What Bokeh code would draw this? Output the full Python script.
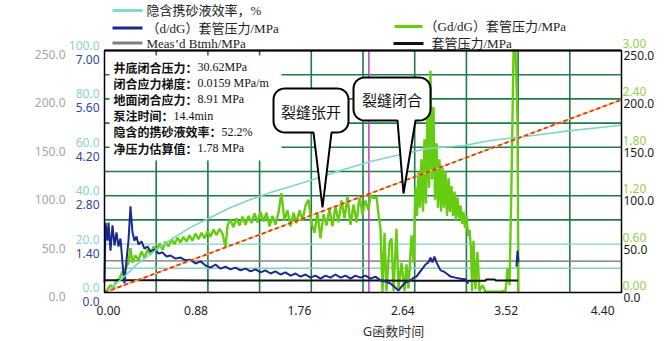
import math
from bokeh.plotting import figure
from bokeh.models import Range1d, Label, BoxAnnotation, PolyAnnotation, Arrow
from bokeh.embed import file_html
from bokeh.resources import INLINE

NaN = float("nan")

# ---------------- data ----------------
# implied slurry efficiency, %  (0-100 axis)
eff_G = [0.000, 0.051, 0.119, 0.187, 0.264, 0.366, 0.477, 0.604, 0.732, 0.902,
         1.072, 1.243, 1.413, 1.583, 1.779, 2.009, 2.264, 2.519, 2.749, 3.055,
         3.285, 3.498, 3.711, 3.966, 4.221, 4.374, 4.400]
eff_pct = [0.0, 1.7, 4.5, 7.4, 11.2, 14.9, 19.0, 23.1, 26.9, 31.0,
           35.1, 38.4, 41.3, 43.8, 46.7, 50.4, 54.1, 57.0, 59.5, 60.7,
           62.8, 64.0, 65.3, 66.9, 68.2, 69.0, 69.1]

# (d/dG) casing pressure, MPa (0-7 axis)
ddg_G = [0.000, 0.009, 0.026, 0.034, 0.051, 0.068, 0.085, 0.102, 0.119, 0.136,
         0.153, 0.170, 0.187, 0.204, 0.221, 0.238, 0.255, 0.272, 0.289, 0.315,
         0.340, 0.366, 0.391, 0.426, 0.460, 0.494, 0.528, 0.562, 0.604, 0.647,
         0.689, 0.732, 0.774, 0.817, 0.860, 0.902, 0.945, 0.987, 1.030, 1.072,
         1.115, 1.157, 1.200, 1.243, 1.285, 1.328, 1.370, 1.413, 1.455, 1.498,
         1.540, 1.583, 1.626, 1.668, 1.711, 1.753, 1.796, 1.838, 1.881, 1.923,
         1.966, 2.009, 2.051, 2.094, 2.136, 2.179, 2.221, 2.264, 2.306, 2.349,
         2.391, 2.434, 2.477, 2.502, 2.528, 2.553, 2.579, 2.604, 2.630, 2.655,
         2.681, 2.706, 2.732, 2.757, 2.774, 2.791, 2.808, 2.826, 2.843, 2.860,
         2.885, 2.911, 2.945, 2.987, 3.030, 3.072, 3.098, 3.300, 3.506, 3.515,
         3.523]
ddg_val = [0.29, 2.02, 1.50, 2.02, 1.21, 1.94, 1.36, 1.74, 1.33, 1.56,
           0.87, 0.26, 0.93, 1.50, 2.49, 1.74, 1.50, 1.62, 1.39, 1.48,
           1.27, 1.33, 1.19, 1.24, 1.13, 1.16, 1.04, 1.07, 0.98, 1.01,
           0.93, 0.95, 0.84, 0.90, 0.78, 0.72, 0.81, 0.69, 0.75, 0.67,
           0.72, 0.64, 0.69, 0.61, 0.67, 0.58, 0.64, 0.55, 0.61, 0.52,
           0.58, 0.49, 0.55, 0.46, 0.52, 0.43, 0.49, 0.40, 0.49, 0.43,
           0.52, 0.43, 0.49, 0.40, 0.49, 0.43, 0.49, 0.40, 0.46, 0.35,
           0.32, 0.26, 0.14, 0.06, 0.17, 0.26, 0.32, 0.35, 0.43, 0.46,
           0.58, 0.69, 0.81, 0.87, 1.01, 0.87, 1.04, 0.87, 0.75, 0.64,
           0.61, 0.55, 0.46, 0.43, 0.40, 0.38, 0.26, NaN, 0.75, 1.21,
           0.87]

# (Gd/dG) casing pressure, MPa (0-3 axis)
gddg_G = [0.000, 0.026, 0.051, 0.077, 0.102, 0.128, 0.153, 0.179, 0.204, 0.221,
          0.238, 0.264, 0.289, 0.315, 0.340, 0.366, 0.391, 0.417, 0.443, 0.468,
          0.494, 0.519, 0.545, 0.570, 0.596, 0.621, 0.647, 0.672, 0.698, 0.723,
          0.749, 0.774, 0.800, 0.826, 0.851, 0.877, 0.902, 0.928, 0.953, 0.979,
          1.004, 1.030, 1.047, 1.072, 1.098, 1.123, 1.149, 1.174, 1.200, 1.226,
          1.251, 1.277, 1.302, 1.328, 1.353, 1.379, 1.404, 1.430, 1.455, 1.481,
          1.506, 1.532, 1.557, 1.583, 1.609, 1.634, 1.660, 1.685, 1.711, 1.736,
          1.762, 1.787, 1.813, 1.838, 1.864, 1.889, 1.915, 1.940, 1.966, 1.991,
          2.017, 2.043, 2.068, 2.094, 2.119, 2.145, 2.170, 2.196, 2.221, 2.247,
          2.264, 2.289, 2.315, 2.332, 2.349, 2.366, 2.383, 2.400, 2.426, 2.443,
          2.460, 2.485, 2.502, 2.528, 2.553, 2.570, 2.587, 2.613, 2.630, 2.647,
          2.660, 2.672, 2.685, 2.698, 2.711, 2.723, 2.736, 2.749, 2.762, 2.774,
          2.787, 2.800, 2.813, 2.826, 2.838, 2.851, 2.864, 2.877, 2.889, 2.902,
          2.915, 2.928, 2.940, 2.953, 2.966, 2.979, 2.991, 3.004, 3.017, 3.030,
          3.043, 3.055, 3.068, 3.081, 3.094, 3.106, 3.119, 3.128, 3.140, 3.157,
          3.174, 3.191, 3.217, 3.243, 3.285, 3.370, 3.413, 3.430, 3.447, 3.464,
          3.481, 3.498, 3.515, 3.523]
gddg_val = [0.00, 0.04, 0.09, 0.06, 0.15, 0.17, 0.26, 0.30, 0.37, 0.55,
            0.37, 0.46, 0.40, 0.51, 0.43, 0.53, 0.47, 0.57, 0.51, 0.61,
            0.53, 0.63, 0.57, 0.66, 0.60, 0.68, 0.62, 0.69, 0.63, 0.71,
            0.64, 0.73, 0.66, 0.74, 0.67, 0.76, 0.69, 0.78, 0.71, 0.79,
            0.73, 0.56, 0.83, 0.90, 0.81, 0.92, 0.83, 0.94, 0.84, 0.95,
            0.86, 0.98, 0.87, 1.00, 0.88, 0.99, 0.82, 0.95, 0.84, 0.99,
            1.23, 0.89, 1.02, 0.82, 0.99, 0.86, 1.02, 0.89, 1.08, 1.15,
            0.87, 0.74, 0.99, 0.67, 0.97, 0.83, 1.04, 0.82, 1.07, 0.87,
            1.14, 0.92, 1.19, 0.84, 1.09, 0.87, 1.19, 0.97, 1.14, 1.02,
            1.21, 1.17, 1.19, 0.97, 0.79, 0.01, 0.74, 0.02, 0.62, 0.67,
            0.02, 0.79, 0.05, 0.37, 0.02, 0.35, 0.05, 0.71, 0.37, 1.30,
            0.95, 1.50, 1.05, 1.65, 1.00, 1.90, 1.10, 2.30, 1.30, 2.75,
            1.40, 2.30, 1.15, 1.85, 1.05, 1.65, 1.00, 1.55, 1.05, 1.50,
            0.95, 1.42, 1.00, 1.32, 0.95, 1.25, 0.90, 1.18, 0.92, 1.08,
            0.85, 1.00, 0.80, 0.95, 0.70, 0.78, 0.55, 0.02, 0.64, 0.04,
            0.50, 0.02, 0.09, 0.01, 0.01, 0.01, 0.02, 0.30, 0.09, 1.39,
            3.00, 3.00, 2.13, 0.01]

# straight-line extrapolation of Gd/dG (red dashed)
tan_G = [0.0, 4.40]
tan_val = [0.0, 2.39]

# casing pressure, MPa (right 0-250 axis)
csg_G = [0.0, 0.5, 1.0, 1.5, 2.0, 2.35, 2.6, 3.0, 3.24, 3.25, 3.32, 3.33, 3.52]
csg_val = [12.7, 12.6, 12.5, 12.5, 12.4, 12.3, 12.2, 12.1, 12.1, 13.4, 13.4, 12.4, 12.4]

# measured bottom-hole pressure, MPa (left 0-250 axis)
btmh_G = [0.0, 1.0, 2.0, 3.0, 4.4]
btmh_val = [32.8, 32.6, 32.5, 32.4, 32.3]

closure_G = 2.25

x_ticks = [0.00, 0.88, 1.76, 2.64, 3.52, 4.40]
x_tick_labels = ["0.00", "0.88", "1.76", "2.64", "3.52", "4.40"]
btmh_labels = ["0.0", "50.0", "100.0", "150.0", "200.0", "250.0"]
eff_labels = ["0.0", "20.0", "40.0", "60.0", "80.0", "100.0"]
ddg_labels = ["0.0", "1.40", "2.80", "4.20", "5.60", "7.00"]
gddg_labels = ["0.00", "0.60", "1.20", "1.80", "2.40", "3.00"]
csg_labels = ["0.0", "50.0", "100.0", "150.0", "200.0", "250.0"]

info_names = ["井底闭合压力：", "闭合应力梯度：", "地面闭合应力：", "泵注时间：",
              "隐含的携砂液效率：", "净压力估算值："]
info_values = ["30.62MPa", "0.0159 MPa/m", "8.91 MPa", "14.4min", "52.2%", "1.78 MPa"]

assert len(ddg_G) == len(ddg_val)
assert len(gddg_G) == len(gddg_val)
assert len(eff_G) == len(eff_pct)

# ---------------- layout ----------------
W, H = 666, 341
PX0, PY0, PW, PH = 104, 50, 517, 242      # chart box in page pixels
XMAX, YMAX = 4.4, 250.0


def gx(ix):
    return (ix - PX0) / PW * XMAX


def gy(iy):
    return (PY0 + PH - iy) / PH * YMAX


y0, y1 = gy(H), gy(0)
p = figure(width=W, height=H, x_range=Range1d(gx(0), gx(W)), y_range=Range1d(y0, y1),
           x_axis_type=None, y_axis_type=None, output_backend="svg",
           toolbar_location=None, min_border=0, min_border_left=0, min_border_right=0,
           min_border_top=0, min_border_bottom=0)
p.extra_y_ranges = {"eff": Range1d(y0 * 100 / YMAX, y1 * 100 / YMAX),
                    "ddg": Range1d(y0 * 7 / YMAX, y1 * 7 / YMAX),
                    "gddg": Range1d(y0 * 3 / YMAX, y1 * 3 / YMAX),
                    "csg": Range1d(y0, y1)}
p.background_fill_color = "white"
p.border_fill_color = "white"
p.outline_line_color = None

# grid lines of the chart box
GRID = "#1e7a46"
vx = [XMAX * k / 10 for k in range(1, 10)]
p.segment(x0=vx, y0=[0] * len(vx), x1=vx, y1=[YMAX] * len(vx), line_color=GRID, line_width=1.6)
hy = [YMAX * k / 10 for k in range(3, 10)]
p.segment(x0=[0] * len(hy), y0=hy, x1=[XMAX] * len(hy), y1=hy, line_color=GRID, line_width=1.6)
hy2 = [YMAX * k / 10 for k in range(1, 3)]
p.segment(x0=[0] * len(hy2), y0=hy2, x1=[XMAX] * len(hy2), y1=hy2, line_color="#86cfbd", line_width=1.4)

# ---------------- series ----------------
p.line(btmh_G, btmh_val, line_color="#8c8a84", line_width=1.6)
p.segment(x0=[closure_G], y0=[0], x1=[closure_G], y1=[YMAX], line_color="#c23fc2", line_width=1.5)
p.line(gddg_G, gddg_val, y_range_name="gddg", line_color="#66cc11", line_width=2.4)
p.line(csg_G, csg_val, y_range_name="csg", line_color="#111111", line_width=2)
p.line(ddg_G, ddg_val, y_range_name="ddg", line_color="#1a2a8c", line_width=2)
p.line(eff_G, eff_pct, y_range_name="eff", line_color="#7fd6c4", line_width=1.6)
p.line(tan_G, tan_val, y_range_name="gddg", line_color="#f2c94c", line_width=1.5)
p.line(tan_G, tan_val, y_range_name="gddg", line_color="#e0302a", line_width=1.8, line_dash="4 3")

SANS = "Noto Sans"
MIX = "Liberation Serif, Noto Sans CJK SC"
CJK = "Noto Sans CJK SC"


def lab(x, y, text, color="#222222", size="12px", align="left", font=SANS, xoff=0, style="normal"):
    p.add_layout(Label(x=x, y=y, x_offset=xoff, text=text, text_color=color,
                       text_font_size=size, text_align=align, text_baseline="middle",
                       text_font=font, text_font_style=style))


# ---------------- info box ----------------
p.add_layout(BoxAnnotation(left=gx(109), right=gx(281), top=gy(55), bottom=gy(160),
                           fill_color="white", fill_alpha=1.0, line_alpha=0))
for i, (name, val) in enumerate(zip(info_names, info_values)):
    iy = 66.5 + 16.2 * i
    lab(gx(113), gy(iy), name, color="#111111", size="12px", font=CJK, style="bold")
    lab(gx(113 + 12 * len(name)), gy(iy), val, color="#111111", size="12px",
        font="Liberation Serif")

# chart frame
p.add_layout(BoxAnnotation(left=0, right=XMAX, bottom=0, top=YMAX, fill_alpha=0,
                           line_color="black", line_alpha=1.0, line_width=1.5))
p.segment(x0=[0], y0=[YMAX], x1=[XMAX], y1=[YMAX], line_color="black", line_width=2.2)


# ---------------- callouts ----------------
def bubble(x0, yt, x1, yb, r, bx0, bx1, tx, ty):
    pts = []

    def arc(cx, cy, a0, a1):
        for k in range(7):
            a = math.radians(a0 + (a1 - a0) * k / 6)
            pts.append((cx + r * math.cos(a), cy + r * math.sin(a)))
    arc(x1 - r, yt + r, -90, 0)
    arc(x1 - r, yb - r, 0, 90)
    pts.extend([(bx1, yb), (tx, ty), (bx0, yb)])
    arc(x0 + r, yb - r, 90, 180)
    arc(x0 + r, yt + r, 180, 270)
    p.add_layout(PolyAnnotation(xs=[gx(a) for a, b in pts], ys=[gy(b) for a, b in pts],
                                fill_color="white", fill_alpha=1.0,
                                line_color="black", line_alpha=1.0, line_width=2))


bubble(273, 88, 348, 132, 11, 313, 331, 322, 207)
lab(gx(310.5), gy(111), "裂缝张开", color="#111111", size="15px", align="center", font=CJK)
bubble(353, 77, 430, 120, 11, 397, 415, 403, 193)
lab(gx(391.5), gy(99), "裂缝闭合", color="#111111", size="15px", align="center", font=CJK)

# ---------------- tick labels ----------------
ylab = gy(309.5)
for t, s in zip(x_ticks, x_tick_labels):
    if t == x_ticks[0]:
        lab(t, ylab, s, align="center", xoff=4)
    elif t == x_ticks[-1]:
        lab(t, ylab, s, align="right", xoff=-7)
    else:
        lab(t, ylab, s, align="right")

lab(gx(393), gy(330), "G函数时间", color="#333333", size="13px", align="center",
    font="Noto Sans, Noto Sans CJK SC")

px2d = YMAX / PH
for i in range(6):
    yv = YMAX * i / 5
    lab(gx(65), yv - 4 * px2d, btmh_labels[i], color="#a6a69e", align="right")
    lab(gx(99), yv + 5 * px2d, eff_labels[i], color="#86d6c4", align="right")
    lab(gx(99), yv - 9 * px2d, ddg_labels[i], color="#3344a6", align="right")
    lab(gx(622), yv + 7 * px2d, gddg_labels[i], color="#98d04c", align="left")
    lab(gx(623), yv - 5 * px2d, csg_labels[i], color="#1a1a1a", align="left")

# ---------------- legend ----------------
legend_left = [("隐含携砂液效率，%", "#80dcc8", 10),
               ("（d/dG）套管压力/MPa", "#1a2a8a", 27.5),
               ("Meas’d Btmh/MPa", "#808078", 42.5)]
for text, col, iy in legend_left:
    p.add_layout(Arrow(end=None, x_start=gx(112), y_start=gy(iy), x_end=gx(142), y_end=gy(iy),
                       line_color=col, line_width=3))
    lab(gx(146), gy(iy), text, size="13px", font=MIX)

legend_right = [("（Gd/dG）套管压力/MPa", "#66cc11", 26, 394, 422, 424),
                ("套管压力/MPa", "#111111", 43, 393, 423, 431)]
for text, col, iy, a, b, tx in legend_right:
    p.add_layout(Arrow(end=None, x_start=gx(a), y_start=gy(iy), x_end=gx(b), y_end=gy(iy),
                       line_color=col, line_width=3))
    lab(gx(tx), gy(iy), text, size="13px", font=MIX)

open("out.html", "w").write(file_html(p, INLINE))
